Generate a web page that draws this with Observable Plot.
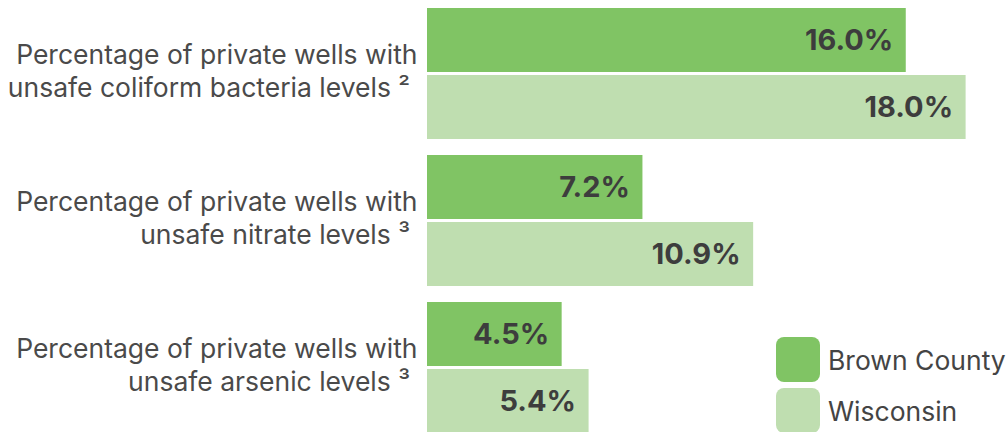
<!DOCTYPE html>
<html>
<head>
<meta charset="utf-8">
<script src="https://cdn.jsdelivr.net/npm/d3@7"></script>
<script src="https://cdn.jsdelivr.net/npm/@observablehq/plot@0.6"></script>
<style>
  html, body { margin: 0; padding: 0; background: #fff; overflow: hidden; }
  #wrap { position: relative; width: 1006px; height: 432px; font-family: Inter, "Noto Sans", sans-serif; }
  #legend { position: absolute; left: 776px; top: 337px; }
  .item { display: flex; align-items: center; height: 45px; margin-bottom: 6px; }
  .sw { width: 44px; height: 45px; border-radius: 8px; margin-right: 8px; }
  .lab { font-size: 26.5px; color: #444; white-space: nowrap; }
</style>
</head>
<body>
<div id="wrap"><div id="legend"></div></div>
<script>
const categories = [
  "Percentage of private wells with\nunsafe coliform bacteria levels",
  "Percentage of private wells with\nunsafe nitrate levels",
  "Percentage of private wells with\nunsafe arsenic levels"
];
const footnotes = ["²", "³", "³"];
const series = ["Brown County", "Wisconsin"];
const brownCounty = [16.0, 7.2, 4.5];
const wisconsin = [18.0, 10.9, 5.4];
const colors = ["#80c464", "#bfdeb0"];

const rows = categories.flatMap((c, i) => [
  {cat: c, series: series[0], value: brownCounty[i]},
  {cat: c, series: series[1], value: wisconsin[i]}
]);
const labelRows = categories.map((c, i) => ({cat: c, label: c + " " + footnotes[i] + "\u00a0"}));

const chart = Plot.plot({
  width: 1006,
  height: 436,
  marginLeft: 427,
  marginRight: 0,
  marginTop: 6,
  marginBottom: 2,
  x: {domain: [0, 19.35], axis: null},
  y: {domain: series, axis: null, paddingInner: 0.044, paddingOuter: 0},
  fy: {domain: categories, axis: null, paddingInner: 0.0983, paddingOuter: 0},
  color: {domain: series, range: colors},
  style: {fontFamily: "Inter, 'Noto Sans', sans-serif", background: "transparent", overflow: "visible"},
  marks: [
    Plot.barX(rows, {x: "value", y: "series", fy: "cat", fill: "series"}),
    Plot.text(rows, {x: "value", y: "series", fy: "cat", text: d => d.value.toFixed(1) + "%",
      textAnchor: "end", dx: -13, fontWeight: 700, fontSize: 29, fill: "#3d3d3d"}),
    Plot.text(labelRows, {fy: "cat", text: "label", frameAnchor: "left", textAnchor: "end", dx: -10, dy: -4,
      lineAnchor: "middle", lineHeight: 1.22, fontSize: 26.5, fill: "#4a4a4a"})
  ]
});
const wrap = document.getElementById("wrap");
wrap.insertBefore(chart, wrap.firstChild);

const legend = document.getElementById("legend");
series.forEach((s, i) => {
  const item = document.createElement("div");
  item.className = "item";
  const sw = document.createElement("div");
  sw.className = "sw";
  sw.style.background = colors[i];
  const lab = document.createElement("span");
  lab.className = "lab";
  lab.textContent = s;
  item.appendChild(sw);
  item.appendChild(lab);
  legend.appendChild(item);
});
</script>
</body>
</html>
